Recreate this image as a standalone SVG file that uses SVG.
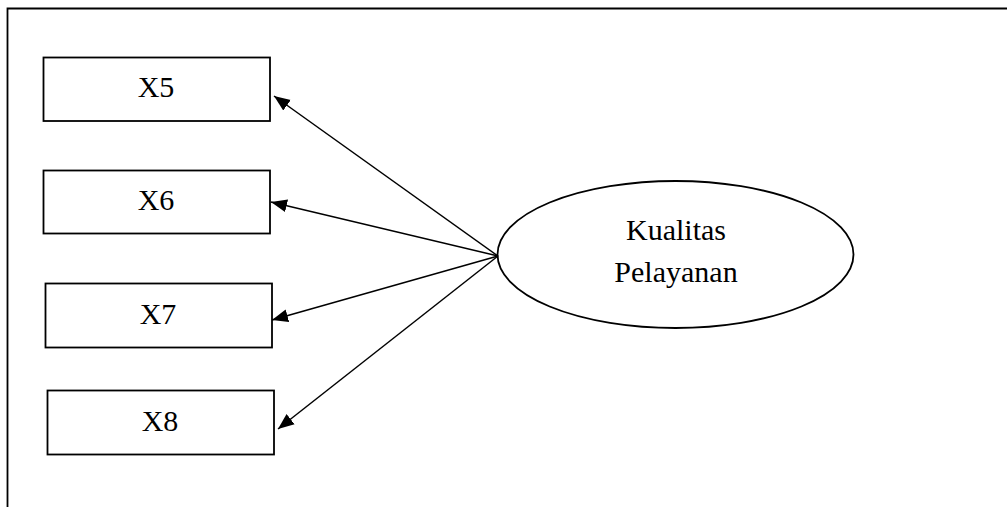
<svg xmlns="http://www.w3.org/2000/svg" width="1007" height="507" viewBox="0 0 1007 507">
<style>
.box{fill:#fff;stroke:#000;stroke-width:1.8}
.lbl{font-family:"Liberation Serif","Times New Roman",serif;font-size:30px;fill:#000;text-anchor:middle}
.edge{stroke:#000;stroke-width:1.5;fill:none;marker-end:url(#ah)}
</style>
<defs>
<marker id="ah" markerUnits="userSpaceOnUse" markerWidth="18" markerHeight="14" refX="16" refY="7" orient="auto">
<path d="M0,0.5 L16,7 L0,13.5 Z" fill="#000"/>
</marker>
</defs>
<rect width="1007" height="507" fill="#fff"/>
<g id="frame"><path d="M7.5,507 V8.5 H1007" fill="none" stroke="#000" stroke-width="1.8"/></g>
<g id="node-x5"><rect class="box" x="43.5" y="57.5" width="226.5" height="63.5"/><text class="lbl" x="156" y="97">X5</text></g>
<g id="node-x6"><rect class="box" x="43.5" y="170.5" width="226.5" height="63"/><text class="lbl" x="156" y="210">X6</text></g>
<g id="node-x7"><rect class="box" x="45.5" y="283.5" width="226.5" height="64"/><text class="lbl" x="158" y="324">X7</text></g>
<g id="node-x8"><rect class="box" x="47.5" y="390.5" width="226.5" height="64"/><text class="lbl" x="160" y="431">X8</text></g>
<g id="node-kp"><ellipse class="box" cx="675.5" cy="254.5" rx="178" ry="73.5"/><text class="lbl" x="676" y="240">Kualitas</text><text class="lbl" x="676" y="282">Pelayanan</text></g>
<g id="connectors">
<line class="edge" x1="498" y1="256" x2="274" y2="96"/>
<line class="edge" x1="498" y1="256" x2="271" y2="202"/>
<line class="edge" x1="498" y1="256" x2="272" y2="320"/>
<line class="edge" x1="498" y1="256" x2="278" y2="429"/>
</g>
</svg>
